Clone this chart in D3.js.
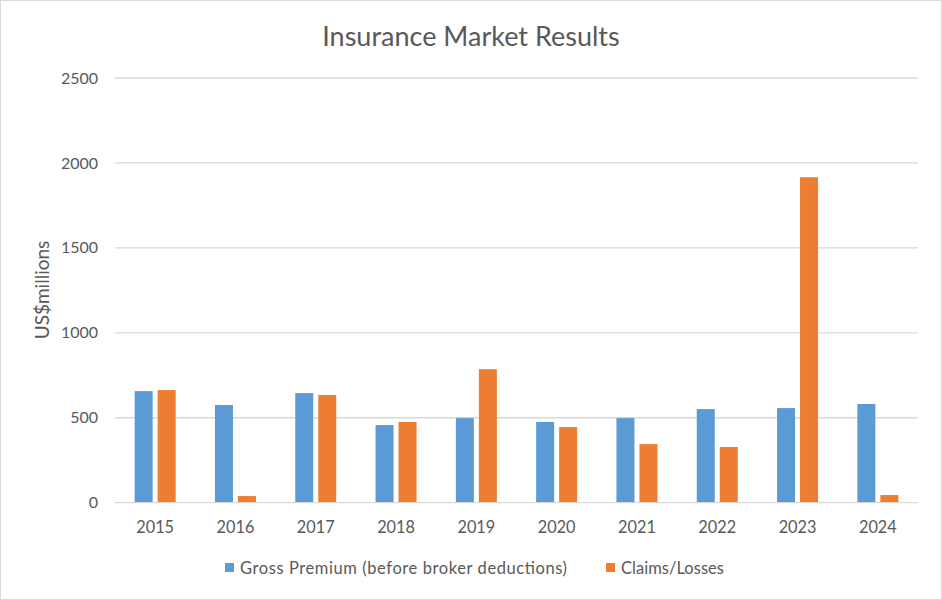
<!DOCTYPE html>
<html><head><meta charset="utf-8">
<script src="https://cdn.jsdelivr.net/npm/d3@7"></script>
<style>body{margin:0;background:#fff;} text{font-family:Lato,"Open Sans",sans-serif;fill:#595959;}</style>
</head><body>
<svg id="c" width="942" height="600"></svg>
<script>
const years = ["2015","2016","2017","2018","2019","2020","2021","2022","2023","2024"];
const grossPremium = [657, 575, 645, 457, 498, 475, 498, 551, 557, 581];
const claimsLosses = [663, 39, 634, 475, 786, 445, 345, 328, 1916, 45];
const seriesNames = ["Gross Premium (before broker deductions)", "Claims/Losses"];
const yTicks = [0, 500, 1000, 1500, 2000, 2500];
const colors = ["#5b9bd5", "#ed7d31"];

(function(){
const svg = d3.select("#c");
svg.append("rect").attr("x",0.5).attr("y",0.5).attr("width",941).attr("height",599)
  .attr("fill","#fff").attr("stroke","#d9d9d9");

const pL = 115, pR = 918, pT = 78, pB = 502.7;
const x = d3.scaleBand().domain(years).range([pL, pR]).paddingInner(0).paddingOuter(0);
const y = d3.scaleLinear().domain([0, 2500]).range([pB, pT]);
const barW = 18, gap = 5;

svg.append("g").selectAll("line").data(yTicks.filter(d=>d>0)).join("line")
  .attr("x1", pL).attr("x2", pR)
  .attr("y1", d=>y(d)).attr("y2", d=>y(d))
  .attr("stroke","#d9d9d9").attr("stroke-width",1.3);

svg.append("g").selectAll("text").data(yTicks).join("text")
  .attr("x", 98).attr("y", d=>y(d)).attr("dy","0.35em")
  .attr("text-anchor","end").attr("font-size",16).text(d=>d);

const data = years.map((yr,i)=>({yr, v:[grossPremium[i], claimsLosses[i]]}));
const g = svg.append("g");
[0,1].forEach(s=>{
  g.selectAll(".b"+s).data(data).join("rect").attr("class","b"+s)
    .attr("x", d=> x(d.yr) + x.bandwidth()/2 + (s===0 ? -(gap/2+barW) : gap/2))
    .attr("y", d=> y(d.v[s]))
    .attr("width", barW)
    .attr("height", d=> pB - y(d.v[s]))
    .attr("fill", colors[s]);
});

svg.append("line").attr("x1",pL).attr("x2",pR).attr("y1",pB).attr("y2",pB)
  .attr("stroke","#d9d9d9").attr("stroke-width",1.3);

svg.append("g").selectAll("text").data(years).join("text")
  .attr("x", d=>x(d)+x.bandwidth()/2).attr("y", 527).attr("dy","0.35em")
  .attr("text-anchor","middle").attr("font-size",16.3).text(d=>d);

svg.append("text").attr("x",471).attr("y",37).attr("dy","0.35em").attr("text-anchor","middle")
  .attr("font-size",27).text("Insurance Market Results");

svg.append("text").attr("transform","translate(42,290) rotate(-90)").attr("dy","0.35em")
  .attr("text-anchor","middle").attr("font-size",19).text("US$millions");

const legX = [225, 606];
const legLen = [327, 103];
seriesNames.forEach((n,i)=>{
  svg.append("rect").attr("x",legX[i]).attr("y",563).attr("width",9).attr("height",9).attr("fill",colors[i]);
  svg.append("text").attr("x",legX[i]+15).attr("y",568).attr("dy","0.35em").attr("font-size",16.5)
    .attr("textLength",legLen[i]).attr("lengthAdjust","spacing").text(n);
});
})();
</script>
</body></html>
